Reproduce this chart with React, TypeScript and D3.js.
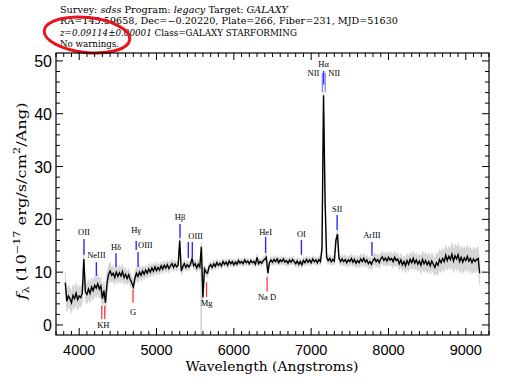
import React from 'react';
import * as d3 from 'd3';

const W = 513;
const H = 382;

// Spectrum sampled on a regular wavelength grid (Angstroms)
const WAVE_START = 3820;
const WAVE_STEP = 20;
const flux = [
  8.0, 4.5, 5.5, 5.0, 4.2, 5.6, 5.0, 6.0, 4.8, 5.5,
  5.2, 6.0, 12.5, 6.2, 5.8, 6.8, 6.0, 7.2, 6.5, 7.5,
  7.0, 7.8, 6.8, 7.4, 5.0, 6.5, 4.2, 8.0, 9.6, 10.2,
  9.4, 9.8, 9.0, 10.0, 9.2, 9.9, 9.3, 10.1, 9.0, 9.6,
  8.8, 9.5, 8.6, 8.0, 7.2, 8.8, 9.8, 9.2, 10.0, 9.4,
  10.2, 9.6, 10.4, 9.8, 10.6, 10.0, 10.8, 10.2, 11.0, 10.3,
  10.9, 10.4, 11.2, 10.6, 11.3, 10.8, 11.4, 10.7, 11.2, 11.6,
  10.9, 11.5, 11.0, 11.3, 16.0, 10.2, 11.0, 11.6, 10.9, 11.4,
  11.0, 11.5, 12.6, 11.2, 11.6, 10.8, 11.5, 11.0, 14.8, 5.2,
  10.6, 10.0, 9.8, 11.0, 11.4, 10.9, 11.6, 11.1, 11.8, 11.3,
  11.7, 11.2, 12.0, 11.5, 11.9, 11.3, 12.1, 11.6, 12.0, 11.4,
  11.9, 11.5, 12.2, 11.7, 12.0, 11.6, 12.3, 11.8, 12.1, 11.6,
  12.2, 11.8, 12.0, 11.5, 12.8, 11.6, 12.0, 11.7, 12.2, 12.4,
  12.8, 9.8, 11.8, 12.3, 11.9, 12.4, 12.0, 12.5, 11.8, 12.3,
  12.0, 12.5, 11.9, 12.2, 11.7, 12.3, 11.9, 12.4, 12.0, 11.6,
  12.1, 11.5, 12.0, 11.4, 12.2, 11.8, 12.4, 11.9, 12.3, 11.8,
  12.5, 12.0, 12.3, 11.8, 12.4, 12.0, 14.5, 43.5, 23.5, 12.8,
  12.2, 12.6, 12.0, 12.4, 12.1, 16.0, 17.2, 12.6, 12.0, 12.5,
  12.0, 12.4, 11.8, 12.3, 12.0, 12.6, 11.9, 12.4, 11.7, 12.2,
  11.8, 12.5, 12.0, 12.6, 11.9, 12.3, 11.6, 12.0, 11.5, 12.2,
  12.6, 12.0, 12.4, 11.8, 12.5, 12.9, 12.2, 12.7, 12.1, 12.8,
  12.3, 12.6, 12.0, 12.8, 12.2, 12.5, 11.6, 12.3, 11.4, 12.0,
  11.2, 12.2, 11.5, 12.4, 11.8, 12.6, 11.7, 12.3, 11.5, 12.1,
  11.3, 12.4, 11.6, 12.2, 11.4, 12.0, 11.2, 12.1, 11.5, 10.9,
  11.8, 11.3, 12.4, 11.8, 12.6, 12.0, 13.2, 12.2, 13.0, 12.4,
  13.4, 12.1, 13.1, 12.5, 13.3, 12.0, 12.8, 11.9, 12.7, 12.2,
  13.0, 12.1, 12.6, 11.8, 12.5, 12.0, 12.4, 12.6, 9.8,
];

// Noise (1-sigma) per block of 10 samples (200 A)
const NOISE_BLOCK = 10;
const noise = [
  2.0, 1.8, 1.8, 1.4, 1.2, 1.0, 0.9, 0.8, 0.8, 0.7,
  0.6, 0.6, 0.6, 0.7, 0.7, 0.7, 0.7, 0.8, 0.9, 1.0,
  1.1, 1.2, 1.4, 1.6, 1.9, 2.2, 2.2,
];

// Sky-line residual
const skyWave = [5577];
const skyLow = [-1.9];
const skyHigh = [15];

const xDomain = [3700, 9300];
const yDomain = [-1.9, 51.5];
const xMajorTicks = [4000, 5000, 6000, 7000, 8000, 9000];
const yMajorTicks = [0, 10, 20, 30, 40, 50];
const xMinorStep = 100;
const yMinorStep = 2;

// Emission line markers (blue)
const emLabels = ['OII', 'NeIII', 'Hδ', 'Hγ', 'OIII', 'Hβ', 'OIII', 'HeI', 'OI', 'SII', 'ArIII', 'Hα', 'NII', 'NII'];
const emWaves = [[4062], [4222], [4476], [4737], [4761], [5304], [5411, 5463], [6411], [6874], [7336], [7786], [7161], [7145], [7183]];
const emLo = [13.3, 9.3, 11.0, 14.2, 11.0, 16.5, 12.7, 13.6, 13.3, 18.0, 13.1, 45.5, 44.1, 44.1];
const emHi = [16.3, 11.9, 13.6, 15.9, 13.8, 19.1, 15.7, 16.7, 16.1, 20.8, 15.7, 48.1, 47.7, 47.7];
const emTextY = [17.0, 12.6, 14.2, 17.4, 14.5, 19.8, 16.3, 17.0, 16.7, 21.4, 16.5, 48.9, 47.2, 47.2];
const emAnchor = ['middle', 'middle', 'middle', 'middle', 'start', 'middle', 'start', 'middle', 'middle', 'middle', 'middle', 'middle', 'end', 'start'];
const emShade = ['dark', 'dark', 'dark', 'dark', 'dark', 'dark', 'dark', 'dark', 'dark', 'dark', 'dark', 'dark', 'light', 'light'];

// Absorption line markers (red)
const absLabels = ['KH', 'G', 'Mg', 'Na D'];
const absWaves = [[4292, 4331], [4696], [5647], [6430]];
const absHi = [3.6, 6.6, 8.1, 9.1];
const absLo = [1.1, 4.2, 5.3, 6.3];
const absTextY = [-0.6, 1.9, 3.6, 4.7];

export default function App() {
  const left = 56, right = 489, top = 53, bottom = 335;
  const x = d3.scaleLinear().domain(xDomain).range([left, right]);
  const y = d3.scaleLinear().domain(yDomain).range([bottom, top]);
  const waves = flux.map((_, i) => WAVE_START + i * WAVE_STEP);
  const nz = (i: number) => noise[Math.min(noise.length - 1, Math.floor(i / NOISE_BLOCK))];

  const linePath = d3.line<number>().x((_, i) => x(waves[i])).y((d) => y(d))(flux) || '';
  const areaPath = d3.area<number>()
    .x((_, i) => x(waves[i]))
    .y0((d, i) => y(d - nz(i)))
    .y1((d, i) => y(d + nz(i)))(flux) || '';

  const xMinor = d3.range(xDomain[0], xDomain[1] + 1, xMinorStep).filter((v) => !xMajorTicks.includes(v));
  const yMinor = d3.range(0, yDomain[1], yMinorStep).filter((v) => !yMajorTicks.includes(v));

  const serif = "'Liberation Serif', 'DejaVu Serif', serif";
  const wideSerif = "'DejaVu Serif', 'Liberation Serif', serif";
  const sans = "'Liberation Sans', Arial, sans-serif";
  const blue = '#2a2aff';
  const lightBlue = '#8c8cff';
  const red = '#ff2a2a';

  const majLen = 7, minLen = 4;

  return (
    <svg width={W} height={H} style={{ position: 'absolute', left: 0, top: 0, background: '#fff' }}
      xmlns="http://www.w3.org/2000/svg">
      <rect x={0} y={0} width={W} height={H} fill="#fff" />
      {/* Header */}
      <g fontFamily={wideSerif} fontSize={8.6} fill="#000">
        <text x={60} y={13} textLength={228} lengthAdjust="spacingAndGlyphs">
          Survey: <tspan fontStyle="italic">sdss</tspan> Program: <tspan fontStyle="italic">legacy</tspan> Target: <tspan fontStyle="italic">GALAXY</tspan>
        </text>
        <text x={60} y={23.5} textLength={338} lengthAdjust="spacingAndGlyphs">
          RA=145.59658, Dec=−0.20220, Plate=266, Fiber=231, MJD=51630
        </text>
        <text x={60} y={35.5} textLength={237} lengthAdjust="spacingAndGlyphs">
          <tspan fontStyle="italic">z=0.09114±0.00001</tspan> Class=GALAXY STARFORMING
        </text>
        <text x={60} y={46.5} textLength={59} lengthAdjust="spacingAndGlyphs">No warnings.</text>
      </g>
      <ellipse cx={87} cy={35} rx={43} ry={17.5} fill="none" stroke="#e8141c" strokeWidth={3}
        transform="rotate(6 87 35)" />

      <defs>
        <clipPath id="plotClip">
          <rect x={left} y={top} width={right - left} height={bottom - top} />
        </clipPath>
      </defs>

      {/* Spectrum */}
      <g clipPath="url(#plotClip)">
        {skyWave.map((w, i) => (
          <line key={'sky' + i} x1={x(w)} x2={x(w)} y1={y(skyLow[i])} y2={y(skyHigh[i])} stroke="#c8c8c8" strokeWidth={1.2} />
        ))}
        <path d={areaPath} fill="#d6d6d6" stroke="#d0d0d0" strokeWidth={0.6} />
        <path d={linePath} fill="none" stroke="#000" strokeWidth={1.4} strokeLinejoin="miter" />
      </g>

      {/* Line markers */}
      <g fontFamily={serif} fontSize={8.5} fill="#000">
        {emLabels.map((lab, i) => {
          const ws = emWaves[i];
          const color = emShade[i] === 'light' ? lightBlue : blue;
          const anchor = emAnchor[i];
          const tx = anchor === 'start' ? x(Math.min(...ws)) : anchor === 'end' ? x(Math.max(...ws)) : x(d3.mean(ws) as number);
          const dx = lab === 'NII' ? (anchor === 'end' ? -3 : 3) : 0;
          return (
            <g key={'em' + i}>
              {ws.map((w, j) => (
                <line key={j} x1={x(w)} x2={x(w)} y1={y(emLo[i])} y2={y(emHi[i])} stroke={color} strokeWidth={1.4} />
              ))}
              <text x={tx + dx} y={y(emTextY[i])} textAnchor={anchor}>{lab}</text>
            </g>
          );
        })}
        {absLabels.map((lab, i) => {
          const ws = absWaves[i];
          return (
            <g key={'abs' + i}>
              {ws.map((w, j) => (
                <line key={j} x1={x(w)} x2={x(w)} y1={y(absLo[i])} y2={y(absHi[i])} stroke={red} strokeWidth={1.2} />
              ))}
              <text x={x(d3.mean(ws) as number)} y={y(absTextY[i])} textAnchor="middle">{lab}</text>
            </g>
          );
        })}
      </g>

      {/* Axes frame */}
      <rect x={left} y={top} width={right - left} height={bottom - top} fill="none" stroke="#000" strokeWidth={1.2} />
      <g stroke="#000" strokeWidth={1}>
        {xMajorTicks.map((v) => (
          <g key={'xM' + v}>
            <line x1={x(v)} x2={x(v)} y1={bottom} y2={bottom - majLen} />
            <line x1={x(v)} x2={x(v)} y1={top} y2={top + majLen} />
          </g>
        ))}
        {xMinor.map((v) => (
          <g key={'xm' + v}>
            <line x1={x(v)} x2={x(v)} y1={bottom} y2={bottom - minLen} />
            <line x1={x(v)} x2={x(v)} y1={top} y2={top + minLen} />
          </g>
        ))}
        {yMajorTicks.map((v) => (
          <g key={'yM' + v}>
            <line x1={left} x2={left + majLen} y1={y(v)} y2={y(v)} />
            <line x1={right} x2={right - majLen} y1={y(v)} y2={y(v)} />
          </g>
        ))}
        {yMinor.map((v) => (
          <g key={'ym' + v}>
            <line x1={left} x2={left + minLen} y1={y(v)} y2={y(v)} />
            <line x1={right} x2={right - minLen} y1={y(v)} y2={y(v)} />
          </g>
        ))}
      </g>

      {/* Tick labels */}
      <g fontFamily={sans} fontSize={14.5} fill="#000">
        {xMajorTicks.map((v) => (
          <text key={'xl' + v} x={x(v)} y={355} textAnchor="middle">{v}</text>
        ))}
      </g>
      <g fontFamily={sans} fontSize={16} fill="#000">
        {yMajorTicks.map((v) => (
          <text key={'yl' + v} x={52} y={y(v) + 6} textAnchor="end">{v}</text>
        ))}
      </g>

      {/* Axis titles */}
      <text x={272} y={371} textAnchor="middle" fontFamily={wideSerif} fontSize={13} textLength={173} lengthAdjust="spacingAndGlyphs">
        Wavelength (Angstroms)
      </text>
      <text transform="translate(26,201) rotate(-90)" textAnchor="middle" fontFamily={wideSerif} fontSize={13}
        textLength={197} lengthAdjust="spacingAndGlyphs">
        <tspan fontStyle="italic">f</tspan>
        <tspan fontSize={9} dy={3}>λ</tspan>
        <tspan dy={-3}> (10</tspan>
        <tspan fontSize={9} dy={-6}>−17</tspan>
        <tspan dy={6}> erg/s/cm</tspan>
        <tspan fontSize={9} dy={-6}>2</tspan>
        <tspan dy={6}>/Ang)</tspan>
      </text>
    </svg>
  );
}
